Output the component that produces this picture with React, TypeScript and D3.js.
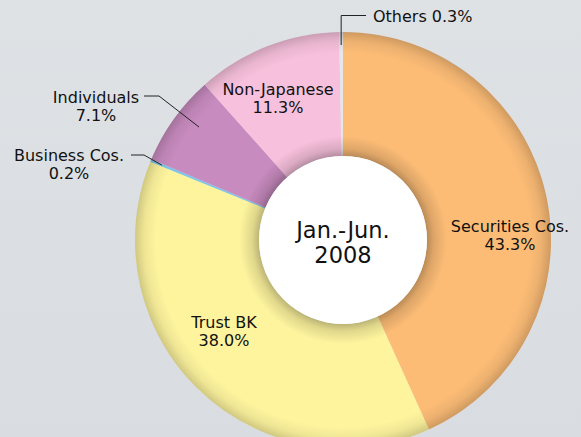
import React from "react";
import * as d3 from "d3";

const categories = ["Securities Cos.", "Trust BK", "Business Cos.", "Individuals", "Non-Japanese", "Others"];
const values = [43.3, 38.0, 0.2, 7.1, 11.3, 0.3];
const valueLabels = ["43.3%", "38.0%", "0.2%", "7.1%", "11.3%", "0.3%"];
const colors = ["#FCBC76", "#FEF49E", "#7CC6E9", "#C88BBF", "#F7C0DC", "#E6E6E8"];
const centerLines = ["Jan.-Jun.", "2008"];

const W = 581, H = 437;
const cx = 343, cy = 240, R = 208, r0 = 84;
const FONT = "'DejaVu Sans', sans-serif";

export default function App() {
  const pie = d3.pie<number>().sort(null).value((d) => d)(values);
  const arc = d3.arc<d3.PieArcDatum<number>>().innerRadius(r0).outerRadius(R);
  const polar = (ang: number, rad: number): [number, number] => [cx + rad * Math.sin(ang), cy - rad * Math.cos(ang)];
  const mid = (i: number) => (pie[i].startAngle + pie[i].endAngle) / 2;

  const inside = [
    { i: 0, x: 510, y: 232 },
    { i: 1, x: 224, y: 328 },
    { i: 4, x: 278, y: 95 },
  ];

  const [bx, by] = polar(mid(2), 196);
  const indAng = pie[3].startAngle + (pie[3].endAngle - pie[3].startAngle) * 0.6;
  const [ix, iy] = polar(indAng, 183);
  const [ox, oy] = polar(mid(5), 195);

  return (
    <svg width={W} height={H} style={{ position: "absolute", left: 0, top: 0, display: "block" }}>
      <defs>
        <radialGradient id="shade" gradientUnits="userSpaceOnUse" cx={0} cy={0} r={R}>
          <stop offset={r0 / R} stopColor="#000" stopOpacity={0.26} />
          <stop offset={(r0 + 7) / R} stopColor="#000" stopOpacity={0.12} />
          <stop offset={(r0 + 20) / R} stopColor="#000" stopOpacity={0} />
          <stop offset={0.9} stopColor="#000" stopOpacity={0} />
          <stop offset={0.955} stopColor="#000" stopOpacity={0.06} />
          <stop offset={1} stopColor="#000" stopOpacity={0.18} />
        </radialGradient>
        <linearGradient id="bg" x1="0" y1="0" x2="0" y2="1">
          <stop offset="0" stopColor="#DEE2E5" />
          <stop offset="1" stopColor="#D9DDE1" />
        </linearGradient>
      </defs>
      <rect x={0} y={0} width={W} height={H} fill="url(#bg)" />
      <g transform={`translate(${cx},${cy})`}>
        {pie.map((p, k) => (
          <path key={k} d={arc(p) || ""} fill={colors[k]} />
        ))}
        <circle r={(R + r0) / 2} fill="none" stroke="url(#shade)" strokeWidth={R - r0} />
        <circle r={r0} fill="#FFFFFF" />
      </g>
      <g fontFamily={FONT} fontSize={16} fill="#111" textAnchor="middle">
        {inside.map((l) => (
          <g key={l.i}>
            <text x={l.x} y={l.y}>{categories[l.i]}</text>
            <text x={l.x} y={l.y + 18}>{valueLabels[l.i]}</text>
          </g>
        ))}
        <text x={69} y={161}>{categories[2]}</text>
        <text x={69} y={179}>{valueLabels[2]}</text>
        <polyline points={`131,155 144,155 ${bx},${by}`} fill="none" stroke="#222" strokeWidth={1} />
        <text x={96} y={103}>{categories[3]}</text>
        <text x={96} y={121}>{valueLabels[3]}</text>
        <polyline points={`144,96 159,96 ${ix},${iy}`} fill="none" stroke="#222" strokeWidth={1} />
        <text x={373} y={22} textAnchor="start">{`${categories[5]} ${valueLabels[5]}`}</text>
        <polyline points={`366,15.5 ${ox},15.5 ${ox},${oy}`} fill="none" stroke="#222" strokeWidth={1} />
      </g>
      <g fontFamily={FONT} fontSize={22.5} fill="#111" textAnchor="middle">
        <text x={cx} y={238}>{centerLines[0]}</text>
        <text x={cx} y={263}>{centerLines[1]}</text>
      </g>
    </svg>
  );
}
